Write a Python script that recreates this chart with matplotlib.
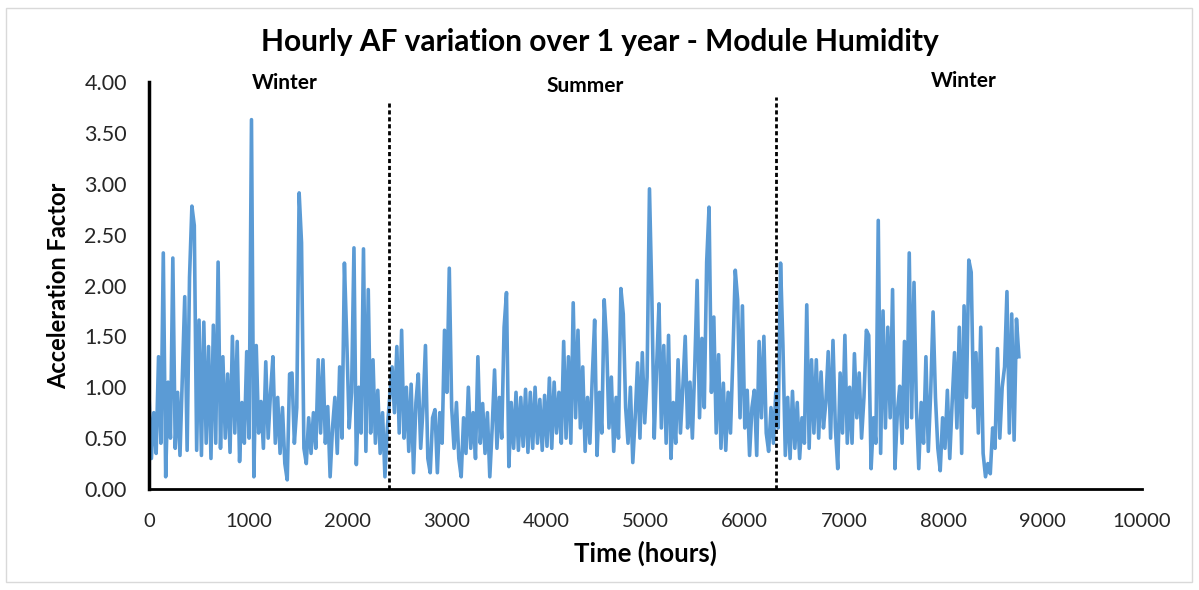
import matplotlib
matplotlib.use("Agg")
import matplotlib.pyplot as plt
from matplotlib.patches import Rectangle
import numpy as np

plt.rcParams['font.family'] = ['Lato', 'DejaVu Sans']

# hourly acceleration factor, every 24 h
hours = np.arange(0, 8761, 24)
af = [
    0.92, 0.30, 0.75, 0.35, 1.30, 0.45, 2.32, 0.12, 1.05, 0.50, 2.27, 0.40, 0.95, 0.33, 1.10, 1.89, 0.38, 2.08, 2.78, 2.59,
    0.38, 1.66, 0.33, 1.64, 0.45, 1.40, 0.30, 1.61, 0.45, 2.23, 0.40, 1.30, 0.50, 1.13, 0.36, 1.50, 0.55, 1.45, 0.27, 0.85,
    0.45, 1.35, 0.50, 3.63, 0.12, 1.41, 0.55, 0.86, 0.40, 1.25, 0.50, 0.95, 1.30, 0.45, 0.90, 0.35, 0.80, 0.25, 0.09, 1.13,
    1.14, 0.45, 0.80, 2.91, 2.42, 0.40, 0.25, 0.70, 0.35, 0.75, 0.40, 1.27, 0.55, 1.27, 0.45, 0.81, 0.12, 0.60, 0.90, 0.35,
    1.20, 0.50, 2.22, 1.45, 0.60, 0.95, 2.37, 0.24, 1.00, 0.55, 2.36, 0.37, 1.96, 0.55, 1.27, 0.45, 0.97, 0.35, 0.75, 0.12,
    0.60, 0.90, 1.20, 0.75, 1.40, 0.55, 1.56, 0.50, 1.00, 0.37, 1.03, 0.16, 0.85, 1.13, 0.40, 0.80, 1.41, 0.30, 0.16, 0.70,
    0.78, 0.16, 0.75, 0.45, 1.56, 0.95, 2.17, 0.80, 0.40, 0.85, 0.30, 0.12, 0.70, 0.35, 1.00, 0.40, 0.75, 0.30, 1.30, 0.45,
    0.84, 0.35, 0.75, 0.12, 0.60, 1.17, 0.40, 0.90, 0.50, 1.59, 1.93, 0.22, 0.85, 0.40, 0.95, 0.38, 0.90, 0.42, 0.98, 0.36,
    0.95, 0.40, 1.00, 0.45, 0.88, 0.38, 0.92, 0.42, 1.09, 0.40, 1.05, 0.55, 0.95, 0.45, 1.45, 0.50, 1.30, 0.45, 1.83, 0.70,
    1.56, 0.60, 1.20, 0.37, 0.90, 0.45, 1.10, 1.66, 0.33, 0.95, 0.55, 1.86, 1.45, 0.60, 1.10, 0.37, 0.90, 0.50, 1.97, 1.72,
    0.80, 0.45, 1.00, 0.26, 0.70, 1.24, 0.50, 1.34, 0.65, 1.10, 2.95, 1.89, 0.50, 1.20, 1.82, 0.60, 1.41, 0.45, 1.51, 0.30,
    0.85, 0.45, 1.27, 0.55, 1.00, 1.50, 0.60, 1.05, 0.50, 1.20, 2.05, 0.70, 1.48, 0.80, 2.23, 2.77, 0.95, 1.69, 0.55, 1.32,
    0.40, 1.04, 0.38, 0.95, 0.55, 1.30, 2.15, 1.86, 0.70, 1.80, 0.60, 0.97, 0.33, 0.80, 0.97, 0.33, 1.45, 0.70, 1.50, 0.55,
    0.37, 0.80, 0.45, 0.95, 0.60, 2.22, 1.41, 0.33, 0.90, 0.30, 0.96, 0.40, 0.85, 0.30, 0.70, 0.45, 1.81, 0.40, 1.27, 0.55,
    1.27, 0.50, 1.15, 0.60, 0.85, 1.35, 0.50, 1.46, 0.60, 0.20, 1.14, 0.55, 1.51, 0.45, 1.00, 0.45, 1.33, 0.70, 1.14, 0.50,
    0.90, 1.56, 1.51, 0.20, 0.70, 0.45, 2.64, 0.35, 1.75, 0.60, 1.59, 0.70, 1.96, 0.20, 0.75, 1.01, 0.45, 1.45, 0.60, 2.32,
    0.70, 2.03, 0.80, 0.20, 0.85, 0.45, 1.30, 0.37, 0.95, 1.74, 0.90, 0.40, 0.18, 0.70, 0.40, 0.97, 0.30, 0.85, 1.34, 0.60,
    1.59, 0.35, 1.80, 0.90, 2.25, 2.13, 0.80, 1.34, 0.55, 1.59, 0.35, 0.12, 0.25, 0.15, 0.60, 0.40, 1.38, 0.50, 1.00, 1.20,
    1.94, 0.55, 1.72, 0.48, 1.67, 1.30,
]

# season boundaries (hours) and labels
season_breaks = [2420, 6315]
break_tops = [3.79, 3.85]
season_names = ['Winter', 'Summer', 'Winter']
season_x = [1370, 4390, 8210]
season_y = [3.99, 3.96, 4.01]

fig = plt.figure(figsize=(11.99, 5.90), dpi=100)
ax = fig.add_axes([149 / 1199, 1 - 489 / 590, (1142 - 149) / 1199, (489 - 82) / 590])

ax.plot(hours, af, color='#5B9BD5', lw=2.6)

for xb, top in zip(season_breaks, break_tops):
    ax.plot([xb, xb], [0, top], color='black', lw=2, ls=(0, (1.5, 1)))

for name, sx, sy in zip(season_names, season_x, season_y):
    ax.text(sx, sy, name, ha='center', va='center', fontsize=15, fontweight='bold')

ax.set_xlim(0, 10000)
ax.set_ylim(0, 4)
ax.set_xticks(np.arange(0, 10001, 1000))
ax.set_yticks(np.arange(0, 4.01, 0.5))
ax.set_yticklabels(['%.2f' % v for v in np.arange(0, 4.01, 0.5)])
ax.tick_params(length=0, colors='#262626')
ax.tick_params(axis='y', pad=16, labelsize=15.5)
ax.tick_params(axis='x', pad=17, labelsize=14.5)

for s in ['top', 'right']:
    ax.spines[s].set_visible(False)
ax.spines['left'].set_linewidth(2.5)
ax.spines['bottom'].set_linewidth(2)

ax.set_xlabel('Time (hours)', fontsize=18.5, fontweight='bold', labelpad=8)
ax.set_ylabel('Acceleration Factor', fontsize=17, fontweight='bold', labelpad=10)
fig.text(0.5, 1 - 42 / 590, 'Hourly AF variation over 1 year - Module Humidity',
         ha='center', va='center', fontsize=21.5, fontweight='bold')

fig.patches.append(Rectangle((6 / 1199, 8 / 590), 1186 / 1199, 574 / 590,
                             transform=fig.transFigure, fill=False,
                             edgecolor='#d9d9d9', lw=1))

fig.savefig('out.png', dpi=100)
